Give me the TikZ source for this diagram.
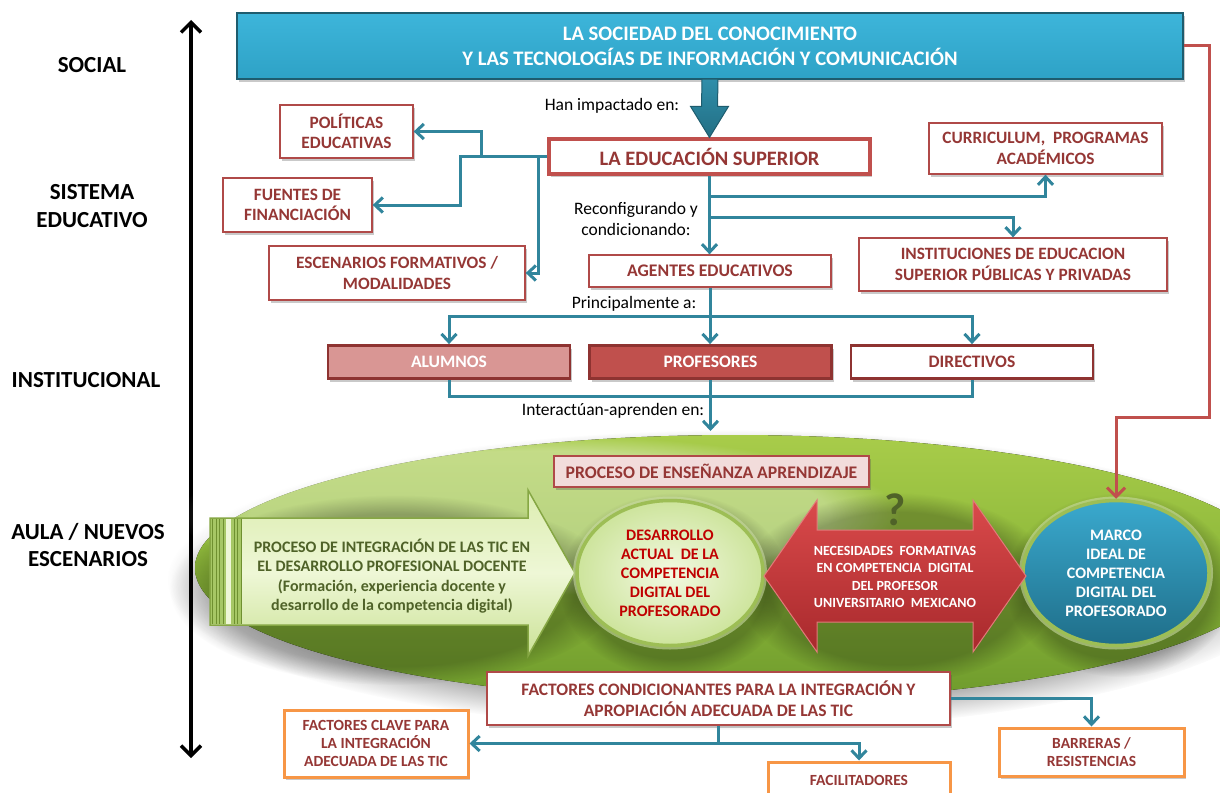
\documentclass[tikz,border=0pt]{standalone}
\usepackage{fontspec}
\setmainfont{Carlito}
\usetikzlibrary{arrows.meta,shadows,shapes.geometric,calc,fadings}
\newcommand{\setfs}[2]{\fontsize{#1}{#2}\selectfont}

\definecolor{linkc}{HTML}{31859C}
\definecolor{wine}{HTML}{953735}
\definecolor{boxred}{HTML}{C0504D}
\definecolor{thinred}{HTML}{B04A48}
\definecolor{agentedge}{HTML}{8E3331}
\definecolor{rose}{HTML}{D99694}
\definecolor{skytop}{HTML}{3DB5DA}
\definecolor{skybot}{HTML}{2EA2C6}
\definecolor{skyedge}{HTML}{1E5C6E}
\definecolor{fattop}{HTML}{2F8EAA}
\definecolor{fatbot}{HTML}{236F84}
\definecolor{orangec}{HTML}{F79646}
\definecolor{olive}{HTML}{4F6228}
\definecolor{pinkbg}{HTML}{F2DCDB}
\definecolor{greentop}{HTML}{A8CC4A}
\definecolor{greenmid}{HTML}{8DB83A}
\definecolor{greenbot}{HTML}{6E9A2C}
\definecolor{ringgreen}{HTML}{9DBE55}
\definecolor{lightcore}{HTML}{F3F9E2}
\definecolor{lightrim}{HTML}{CDE49C}
\definecolor{marcotop}{HTML}{3AA9CE}
\definecolor{marcobot}{HTML}{1F6E89}
\definecolor{redtop}{HTML}{DA4A4B}
\definecolor{redbot}{HTML}{A8292C}
\definecolor{rededge}{HTML}{E27A7A}
\definecolor{stripefill}{HTML}{A6C765}
\definecolor{stripeline}{HTML}{6F9030}
\definecolor{arrowtop}{HTML}{DCEDB0}
\definecolor{arrowmid}{HTML}{EEF7D6}
\definecolor{arrowbot}{HTML}{CBE296}
\definecolor{arrowedge}{HTML}{86A744}
\definecolor{hotred}{HTML}{C00000}

\tikzset{
  boxshadow/.style={drop shadow={shadow xshift=2pt,shadow yshift=-3pt,opacity=.3,fill=black!70}},
  thinbox/.style={draw=thinred, line width=1.3pt, fill=white, text=wine,
    font=\bfseries\setfs{17.3}{20.5}, align=center, inner sep=0pt, boxshadow},
  thickbox/.style={draw=boxred, line width=3.2pt, fill=white, text=wine,
    font=\bfseries\setfs{20.5}{23}, align=center, inner sep=0pt, boxshadow},
  agentbox/.style={draw=agentedge, line width=2.8pt, text=white,
    font=\bfseries\setfs{17.5}{20}, inner sep=0pt, minimum width=242pt,
    minimum height=33pt, boxshadow},
  orangebox/.style={draw=orangec, line width=3pt, fill=white, text=wine,
    font=\bfseries\setfs{15.5}{18}, align=center, inner sep=0pt, boxshadow},
  tierlabel/.style={font=\bfseries\setfs{23}{27.5}, align=center, text=black, inner sep=0pt},
  notetext/.style={font=\setfs{17.5}{21}, align=center, text=black, inner sep=0pt},
  link/.style={draw=linkc, line width=3pt},
  linkarrow/.style={link, -{Straight Barb[length=8pt,width=15pt]}},
  redlink/.style={draw=boxred, line width=3pt, -{Straight Barb[length=9pt,width=18pt]}},
  disc/.style={ellipse, minimum width=186pt, minimum height=145pt, inner sep=0pt,
    font=\bfseries\setfs{16}{19}, align=center,
    preaction={draw=ringgreen!55, line width=8pt, opacity=.6}},
  softglow/.style={path fading=circle with fuzzy edge 20 percent},
}

\begin{document}
\begin{tikzpicture}[x=1pt,y=-1pt]
\useasboundingbox (0,0) rectangle (1220,792);

% ---------- vertical axis with the level names ----------
\coordinate (axtop) at (191,20);
\coordinate (axbot) at (191,758);
\draw[line width=3.5pt, {Straight Barb[length=10pt,width=20pt]}-{Straight Barb[length=10pt,width=20pt]}] (axtop) -- (axbot);
\node[tierlabel] (social) at (92,65) {SOCIAL};
\node[tierlabel] (sistema) at (92,206) {SISTEMA\\EDUCATIVO};
\node[tierlabel] (inst) at (86,380) {INSTITUCIONAL};
\node[tierlabel] (aula) at (88,545) {AULA / NUEVOS\\ESCENARIOS};

% ---------- classroom ellipse ----------
\fill[black, opacity=.35, softglow] (733,580) ellipse [x radius=565pt, y radius=150pt];
\fill[top color=greentop, bottom color=greenbot, middle color=greenmid]
  (735,568) ellipse [x radius=540pt, y radius=133pt];
\fill[white, opacity=.35, softglow] (540,515) ellipse [x radius=360pt, y radius=80pt];

% soft shadows under the inner shapes
\fill[black, opacity=.25, softglow] (395,590) ellipse [x radius=225pt, y radius=95pt];
\fill[black, opacity=.25, softglow] (674,585) ellipse [x radius=115pt, y radius=92pt];
\fill[black, opacity=.25, softglow] (898,588) ellipse [x radius=160pt, y radius=95pt];
\fill[black, opacity=.25, softglow] (1120,585) ellipse [x radius=115pt, y radius=92pt];

% ---------- integration arrow ----------
\path[draw=arrowedge, line width=1.5pt, top color=arrowtop, bottom color=arrowbot, middle color=arrowmid]
  (210,518) -- (528,518) -- (528,490) -- (575,573) -- (528,656) -- (528,625) -- (210,625) -- cycle;
\fill[stripefill] (211,519) rectangle (242,624);
\fill[arrowmid] (226,519) rectangle (231,624);
\foreach \sx in {212.5,216,219.5,223,234,237.5,241}{
  \draw[stripeline, line width=1pt] (\sx,519) -- (\sx,624);
}
\node[font=\bfseries\setfs{16}{19.5}, text=olive, align=center, inner sep=0pt] (integ) at (392,576)
  {PROCESO DE INTEGRACIÓN DE LAS TIC EN\\EL DESARROLLO PROFESIONAL DOCENTE\\(Formación, experiencia docente y\\desarrollo de la competencia digital)};

% ---------- current and ideal competence ----------
\node[disc, draw=ringgreen, line width=3.5pt, inner color=lightcore, outer color=lightrim, text=hotred]
  (actual) at (670,573) {DESARROLLO\\ACTUAL\ \ DE LA\\COMPETENCIA\\DIGITAL DEL\\PROFESORADO};
\node[disc, draw=ringgreen, line width=3.5pt, top color=marcotop, bottom color=marcobot, text=white]
  (marco) at (1116,573) {MARCO\\IDEAL DE\\COMPETENCIA\\DIGITAL DEL\\PROFESORADO};

% ---------- training needs double arrow ----------
\path[draw=rededge, line width=1pt, top color=redtop, bottom color=redbot]
  (764,576) -- (817,500) -- (817,530) -- (973,530) -- (973,500) -- (1026,576)
  -- (973,652) -- (973,622) -- (817,622) -- (817,652) -- cycle;
\node[font=\bfseries\setfs{14}{17.4}, text=white, align=center, inner sep=0pt] (needs) at (895,577)
  {NECESIDADES\ \ FORMATIVAS\\EN COMPETENCIA\ \ DIGITAL\\DEL PROFESOR\\UNIVERSITARIO\ \ MEXICANO};
\node[font=\bfseries\setfs{46}{46}, text=olive, inner sep=0pt] (qmark) at (895,510) {?};

\node[thinbox, fill=pinkbg, font=\bfseries\setfs{17.7}{21}, minimum width=315pt, minimum height=31pt]
  (ensen) at (711.5,471.5) {PROCESO DE ENSEÑANZA APRENDIZAJE};

% ---------- top box and fat arrow ----------
\node[draw=skyedge, line width=2pt, top color=skytop, bottom color=skybot, minimum width=946pt,
  minimum height=66pt, text=white, font=\bfseries\setfs{20.6}{25}, align=center, inner sep=0pt, boxshadow]
  (top) at (710,46) {LA SOCIEDAD DEL CONOCIMIENTO\\Y LAS TECNOLOGÍAS DE INFORMACIÓN Y COMUNICACIÓN};

\node[thickbox, minimum width=321pt, minimum height=35pt] (edu) at (709.5,156.5) {LA EDUCACIÓN SUPERIOR};

\path[draw=skyedge, line width=1pt, top color=fattop, bottom color=fatbot]
  ($(top.south)+(-8,-1)$) -- ($(edu.north)+(-8,-31)$) -- ($(edu.north)+(-19,-31)$) -- (edu.north)
  -- ($(edu.north)+(19,-31)$) -- ($(edu.north)+(8,-31)$) -- ($(top.south)+(8,-1)$) -- cycle;

% ---------- education system boxes ----------
\node[thinbox, minimum width=133pt, minimum height=53pt] (pol) at (346.5,131.5) {POLÍTICAS\\EDUCATIVAS};
\node[thinbox, minimum width=149pt, minimum height=54pt] (fue) at (297.5,205) {FUENTES DE\\FINANCIACIÓN};
\node[thinbox, minimum width=256pt, minimum height=54pt] (esc) at (397,273) {ESCENARIOS FORMATIVOS /\\MODALIDADES};
\node[thinbox, minimum width=233pt, minimum height=51pt] (cur) at (1045.5,148.5) {CURRICULUM,\ \ PROGRAMAS\\ACADÉMICOS};
\node[thinbox, minimum width=308pt, minimum height=53pt] (ins) at (1013,264.5) {INSTITUCIONES DE EDUCACION\\SUPERIOR PÚBLICAS Y PRIVADAS};
\node[thinbox, font=\bfseries\setfs{17.7}{20}, minimum width=242pt, minimum height=32pt] (age) at (710,271) {AGENTES EDUCATIVOS};

% ---------- institutional agents ----------
\node[agentbox, fill=rose] (alu) at (449,362) {ALUMNOS};
\node[agentbox, fill=boxred] (pro) at (710.5,362) {PROFESORES};
\node[agentbox, fill=white, text=wine] (dir) at (972,362) {DIRECTIVOS};

% ---------- conditioning factors ----------
\node[thinbox, font=\bfseries\setfs{17.5}{21}, minimum width=463pt, minimum height=53pt]
  (fac) at (718.5,698.5) {FACTORES CONDICIONANTES PARA LA INTEGRACIÓN Y\\APROPIACIÓN ADECUADA DE LAS TIC};
\node[orangebox, minimum width=184pt, minimum height=67pt] (cla) at (376,743.5) {FACTORES CLAVE PARA\\LA INTEGRACIÓN\\ADECUADA DE LAS TIC};
\node[orangebox, minimum width=182pt, minimum height=36pt] (fcl) at (859,780) {FACILITADORES};
\node[orangebox, minimum width=185pt, minimum height=48pt] (bar) at (1091.5,752) {BARRERAS /\\RESISTENCIAS};

% ---------- connector captions ----------
\node[notetext] (n1) at (612,106) {Han impactado en:};
\node[notetext] (n2) at (636,218.5) {Reconfigurando y\\condicionando:};
\node[notetext] (n3) at (634,304) {Principalmente a:};
\node[notetext] (n4) at (613,411) {Interactúan-aprenden en:};

% ---------- connectors ----------
\coordinate (jpol) at (481,156.5);
\coordinate (jfue) at (460,156.5);
\coordinate (jesc) at (538,156.5);
\draw[linkarrow] (edu.west) -- (jfue) |- (fue.east);
\draw[linkarrow] (jpol) |- (pol.east);
\draw[linkarrow] (jesc) |- (esc.east);

\coordinate (jcur) at (709.5,196);
\coordinate (jins) at (709.5,217);
\draw[linkarrow] (edu.south) -- (edu.south |- age.north);
\draw[linkarrow] (jcur) -| (cur.south);
\draw[linkarrow] (jins) -| (ins.north);

\coordinate (jrow) at (710,316);
\draw[link] (age.south) -- (jrow);
\draw[linkarrow] (jrow) -| (alu.north);
\draw[linkarrow] (jrow) -| (dir.north);
\draw[linkarrow] (jrow) -- (jrow |- pro.north);

\coordinate (jbot) at (710,396);
\coordinate (inflow) at (710.5,431);
\draw[link] (alu.south) |- (dir.south |- jbot) -- (dir.south);
\draw[linkarrow] (pro.south) -- (inflow);

\coordinate (rbend) at (1209,417);
\draw[redlink] (top.east) -| (rbend) -| (marco.north);

\draw[linkarrow] (fac.south) |- (cla.east);
\draw[linkarrow] (fac.south) |- (fcl.north |- cla.east) -- (fcl.north);
\draw[linkarrow] (fac.east) -| (bar.north);

\end{tikzpicture}
\end{document}
